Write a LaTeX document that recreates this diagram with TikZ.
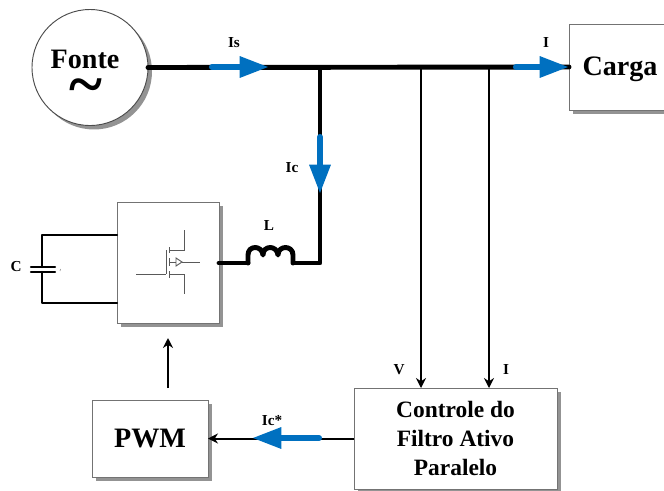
\documentclass[tikz,border=0pt]{standalone}
\usepackage{fontspec}
\setmainfont{Liberation Serif}
\usetikzlibrary{arrows.meta,shadows}
\definecolor{azul}{HTML}{0070C0}
\tikzset{
  bloco/.style={draw=gray!90!black, line width=0.8pt, fill=white, outer sep=0pt, align=center, font=\bfseries\fontsize{24}{28}\selectfont,
    drop shadow={shadow xshift=3.4pt, shadow yshift=-3.4pt, fill=gray!85, opacity=1}},
  rotulo/.style={font=\bfseries\fontsize{13}{15}\selectfont, inner sep=0pt},
  barra/.style={line width=4.2pt, line cap=round, line join=round},
  fio/.style={line width=1.9pt, line cap=round, line join=round},
  sinal/.style={-{Stealth[length=0.3cm,width=0.3cm]}, line width=1.7pt},
  corrente/.style={-{Triangle[length=0.88cm,width=0.6cm]}, azul, line width=5.2pt, line cap=round},
  chave/.style={gray!70!black, line width=0.8pt}
}
\begin{document}
\begin{tikzpicture}[x=0.03cm, y=-0.03cm]
    \useasboundingbox (0,0) rectangle (664,490);
    \clip (0,0) rectangle (664,490);

    % Blocos
    \node[bloco, circle, minimum size=116*0.03cm, draw=black!70] (fonte) at (90,67.5) {};
    \node[bloco, minimum width=103*0.03cm, minimum height=86*0.03cm] (carga) at (620.5,67) {};
    \node[bloco, minimum width=102*0.03cm, minimum height=121*0.03cm] (inv) at (168,262.5) {};
    \node[bloco, minimum width=116*0.03cm, minimum height=77*0.03cm] (pwm) at (150,438.5) {PWM};
    \node[bloco, minimum width=203*0.03cm, minimum height=101*0.03cm, font=\bfseries\fontsize{20}{24.6}\selectfont] (ctrl) at (455.5,438.5) {Controle do\\Filtro Ativo\\Paralelo};

    % Texto da fonte e da carga
    \node[inner sep=0pt, font=\bfseries\fontsize{24}{28}\selectfont] (nfonte) at (85,59) {Fonte};
    \node[inner sep=0pt, font=\bfseries\fontsize{54}{54}\selectfont] (til) at (85.5,92) {\char"7E};
    \node[inner sep=0pt, font=\bfseries\fontsize{24}{28}\selectfont] (ncarga) at (620,69.5) {Carga};

    % Coordenadas
    \coordinate (A) at (320,67);
    \coordinate (B) at (320,263);
    \coordinate (V) at (421,67);
    \coordinate (Ib) at (489,67);
    \coordinate (L1) at (248,263);
    \coordinate (L2) at (293,263);
    \coordinate (Cs) at (42,235);
    \coordinate (Ci) at (42,303);
    \coordinate (P1) at (42,267);
    \coordinate (P2) at (42,272);

    % Barramento e ramo do filtro
    \draw[barra] (fonte.east) -- (carga.west);
    \draw[barra, line cap=butt] (A) -- (B) -- (L2);
    \draw[barra] (inv.east |- B) -- (L1);
    \draw[barra] (L1) -- (248,255) .. controls (248,245) and (262,245) .. (263,255)
        .. controls (263,245) and (277,245) .. (278,255)
        .. controls (278,245) and (293,245) .. (293,255) -- (L2);

    % Medidas e sinais
    \draw[sinal] (V) -- (V |- ctrl.north);
    \draw[sinal] (Ib) -- (Ib |- ctrl.north);
    \draw[sinal] (ctrl.west) -- (pwm.east);
    \draw[sinal, shorten <=10.2pt, shorten >=12.8pt] (inv.south |- pwm.north) -- (inv.south);

    % Capacitor
    \draw[fio] (Cs -| inv.west) -- (Cs) -- (P1);
    \draw[fio] (Ci -| inv.west) -- (Ci) -- (P2);
    \draw[fio] (31,267) -- (55,267);
    \draw[fio] (31,272) -- (55,272);
    \draw[gray, line width=0.5pt] (60.5,269) -- (60,271);

    % Chave
    \draw[chave] (136,274) -- (166,274) (166,250) -- (166,274);
    \draw[chave] (169,247) -- (169,253) (169,258) -- (169,266) (169,271) -- (169,278);
    \draw[chave] (169,250) -- (184,250) -- (184,230);
    \draw[chave] (169,274) -- (184,274) -- (184,294);
    \draw[chave] (169,262) -- (176,262) (182,262) -- (200,262);
    \draw[chave] (176,258) -- (182,262) -- (176,266) -- cycle;

    % Correntes
    \coordinate (Isa) at (212,67);
    \coordinate (Isb) at (269,67);
    \coordinate (Ia) at (516,67);
    \coordinate (Ibb) at (569,67);
    \coordinate (Ica) at (320,137);
    \coordinate (Icb) at (320,194);
    \coordinate (Iea) at (319,438);
    \coordinate (Ieb) at (252,438);
    \draw[corrente] (Isa) -- (Isb);
    \draw[corrente] (Ia) -- (Ibb);
    \draw[corrente] (Ica) -- (Icb);
    \draw[corrente] (Iea) -- (Ieb);

    % Rotulos
    \node[rotulo] (lis) at (234,43) {Is};
    \node[rotulo] (li) at (546,43) {I};
    \node[rotulo] (lic) at (292,168) {Ic};
    \node[rotulo] (ll) at (269,226) {L};
    \node[rotulo] (lc) at (16,267) {C};
    \node[rotulo] (lv) at (399,370) {V};
    \node[rotulo] (li2) at (506,370) {I};
    \node[rotulo] (lie) at (272,421) {Ic*};
\end{tikzpicture}
\end{document}
